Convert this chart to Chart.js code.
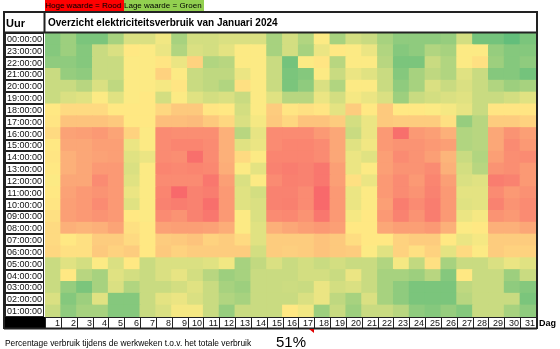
<!DOCTYPE html>
<html>
<head>
<meta charset="utf-8">
<script src="https://cdn.jsdelivr.net/npm/chart.js"></script>
<style>
  body { margin: 0; background: #fff; }
  #wrap { position: relative; width: 560px; height: 349px; overflow: hidden; }
  #heatmap { position: absolute; left: 0; top: 0; }
  .txt { position: absolute; white-space: nowrap; font-family: "Liberation Sans", Arial, sans-serif; color: #000; }
</style>
</head>
<body>
<div id="wrap">
  <canvas id="heatmap" width="560" height="349"></canvas>
  <div class="txt" style="left:45px;top:0;width:79px;height:11px;background:#ff0000;font-size:8px;line-height:11px;">Hoge waarde = Rood</div>
  <div class="txt" style="left:124px;top:0;width:80px;height:11px;background:#92d050;font-size:8px;line-height:11px;">Lage waarde = Groen</div>
  <div class="txt" style="left:6px;top:13px;font-size:11px;font-weight:bold;line-height:20px;">Uur</div>
  <div class="txt" style="left:48px;top:13px;font-size:10px;font-weight:bold;line-height:20px;">Overzicht elektriciteitsverbruik van Januari 2024</div>
  <div class="txt" style="left:539px;top:317px;font-size:9px;font-weight:bold;line-height:12px;">Dag</div>
  <div class="txt" style="left:5px;top:337px;font-size:8.4px;line-height:12px;">Percentage verbruik tijdens de werkweken t.o.v. het totale verbruik</div>
  <div class="txt" style="left:276px;top:333px;font-size:15px;line-height:17px;">51%</div>
</div>
<script>
// dagen van januari 2024
const dagen = [1, 2, 3, 4, 5, 6, 7, 8, 9, 10, 11, 12, 13, 14, 15, 16, 17, 18, 19, 20, 21, 22, 23, 24, 25, 26, 27, 28, 29, 30, 31];

// relatief verbruik per uur (0 = laagst, 100 = hoogst), dag 1 t/m 31
const uur00 = [15, 22, 12, 12, 25, 40, 40, 47, 25, 38, 38, 40, 40, 40, 25, 38, 28, 50, 25, 38, 35, 25, 18, 18, 18, 20, 38, 10, 10, 5, 12];
const uur23 = [15, 22, 15, 35, 40, 52, 50, 45, 28, 40, 38, 43, 50, 50, 25, 38, 25, 45, 52, 50, 45, 28, 15, 18, 28, 25, 50, 50, 20, 15, 15];
const uur22 = [18, 18, 15, 35, 35, 50, 50, 53, 45, 60, 28, 30, 50, 50, 35, 10, 50, 53, 30, 50, 50, 30, 12, 12, 35, 28, 50, 55, 22, 15, 18];
const uur21 = [35, 20, 18, 35, 35, 50, 50, 60, 50, 35, 32, 32, 45, 50, 35, 12, 15, 50, 35, 45, 42, 35, 15, 25, 32, 28, 42, 35, 15, 15, 10];
const uur20 = [35, 35, 30, 40, 32, 50, 50, 48, 53, 35, 32, 28, 55, 50, 35, 12, 18, 40, 28, 50, 50, 35, 18, 25, 40, 35, 40, 35, 28, 22, 25];
const uur19 = [35, 40, 42, 50, 42, 50, 52, 38, 50, 42, 38, 40, 35, 50, 42, 30, 30, 45, 38, 48, 45, 40, 22, 35, 38, 40, 42, 35, 35, 38, 42];
const uur18 = [52, 57, 57, 57, 52, 52, 52, 58, 63, 63, 53, 52, 38, 50, 62, 53, 55, 53, 43, 62, 52, 63, 52, 52, 50, 48, 44, 35, 53, 53, 53];
const uur17 = [53, 65, 65, 65, 63, 52, 52, 67, 67, 68, 63, 58, 40, 48, 63, 58, 65, 65, 62, 38, 45, 63, 62, 62, 62, 55, 20, 30, 62, 62, 60];
const uur16 = [57, 77, 78, 80, 76, 60, 50, 85, 84, 84, 84, 72, 30, 44, 85, 85, 85, 80, 75, 35, 45, 80, 95, 80, 78, 72, 28, 30, 75, 82, 78];
const uur15 = [52, 75, 75, 78, 78, 45, 50, 85, 87, 87, 85, 72, 42, 45, 85, 87, 87, 85, 75, 42, 47, 80, 82, 82, 80, 78, 28, 30, 75, 85, 80];
const uur14 = [53, 72, 75, 77, 78, 42, 45, 85, 84, 95, 85, 72, 57, 50, 87, 87, 87, 85, 75, 45, 42, 78, 85, 82, 78, 70, 35, 28, 78, 84, 85];
const uur13 = [52, 72, 75, 80, 80, 40, 50, 87, 86, 87, 86, 73, 50, 43, 88, 90, 88, 92, 78, 45, 50, 78, 82, 82, 85, 72, 38, 30, 82, 84, 80];
const uur12 = [50, 75, 75, 85, 80, 42, 50, 85, 85, 85, 92, 78, 40, 50, 85, 89, 88, 92, 78, 55, 45, 80, 85, 80, 87, 78, 40, 42, 90, 88, 80];
const uur11 = [52, 77, 80, 82, 80, 45, 50, 87, 97, 88, 90, 80, 42, 38, 88, 88, 85, 97, 80, 45, 50, 80, 85, 82, 88, 80, 43, 43, 85, 80, 83];
const uur10 = [53, 78, 80, 85, 80, 42, 50, 88, 90, 88, 95, 80, 42, 40, 88, 89, 85, 97, 80, 45, 50, 78, 90, 85, 90, 80, 42, 43, 88, 82, 85];
const uur09 = [55, 78, 80, 82, 80, 52, 50, 85, 82, 88, 92, 80, 50, 40, 85, 86, 82, 92, 80, 48, 52, 80, 88, 82, 90, 80, 45, 48, 82, 80, 85];
const uur08 = [57, 72, 70, 72, 76, 55, 52, 77, 78, 78, 77, 73, 50, 42, 72, 75, 78, 80, 78, 52, 52, 75, 78, 78, 80, 72, 50, 52, 72, 72, 75];
const uur07 = [57, 52, 55, 62, 62, 57, 52, 62, 63, 65, 60, 62, 57, 42, 62, 62, 62, 65, 63, 56, 52, 52, 60, 62, 62, 52, 45, 48, 62, 62, 62];
const uur06 = [58, 55, 55, 63, 60, 62, 52, 63, 60, 62, 62, 62, 62, 38, 62, 61, 62, 65, 63, 62, 50, 42, 60, 55, 60, 43, 57, 50, 62, 60, 60];
const uur05 = [35, 42, 38, 50, 40, 52, 35, 40, 40, 40, 42, 47, 25, 33, 40, 35, 38, 35, 38, 35, 35, 28, 48, 33, 55, 25, 35, 35, 40, 45, 42];
const uur04 = [35, 52, 30, 25, 42, 38, 35, 40, 44, 38, 30, 22, 25, 35, 35, 35, 38, 38, 35, 45, 35, 25, 25, 22, 30, 15, 52, 35, 35, 22, 35];
const uur03 = [35, 20, 12, 25, 40, 28, 35, 35, 38, 42, 35, 25, 22, 35, 35, 36, 35, 45, 38, 40, 35, 25, 18, 12, 12, 12, 32, 35, 35, 18, 15];
const uur02 = [40, 15, 22, 42, 15, 15, 35, 43, 45, 40, 35, 28, 25, 35, 35, 35, 40, 45, 32, 25, 40, 25, 18, 12, 12, 12, 30, 35, 35, 35, 12];
const uur01 = [35, 18, 25, 25, 15, 15, 35, 40, 48, 48, 35, 20, 35, 35, 35, 52, 47, 22, 35, 22, 35, 35, 30, 18, 15, 20, 15, 35, 35, 25, 18];

// van onder naar boven, zoals in het overzicht
const uurLabels = ['01:00:00', '02:00:00', '03:00:00', '04:00:00', '05:00:00', '06:00:00', '07:00:00', '08:00:00',
  '09:00:00', '10:00:00', '11:00:00', '12:00:00', '13:00:00', '14:00:00', '15:00:00', '16:00:00',
  '17:00:00', '18:00:00', '19:00:00', '20:00:00', '21:00:00', '22:00:00', '23:00:00', '00:00:00'];
const uurRijen = [uur01, uur02, uur03, uur04, uur05, uur06, uur07, uur08, uur09, uur10, uur11, uur12,
  uur13, uur14, uur15, uur16, uur17, uur18, uur19, uur20, uur21, uur22, uur23, uur00];

// kleurschaal groen - geel - rood
const groen = [99, 190, 123], geel = [255, 235, 132], rood = [248, 105, 107];
const alleWaarden = uurRijen.flat();
const laag = Math.min(...alleWaarden), hoog = Math.max(...alleWaarden);
const midden = (laag + hoog) / 2;

const mix = (a, b, t) => a.map((v, i) => Math.round(v + (b[i] - v) * t));
const kleur = (v) => {
  const c = v <= midden ? mix(groen, geel, (v - laag) / (midden - laag)) : mix(geel, rood, (v - midden) / (hoog - midden));
  return `rgb(${c[0]},${c[1]},${c[2]})`;
};

// rijlabels, daglabels en randen van de tabel
const tabelPlugin = {
  id: 'tabel',
  afterDraw(chart) {
    const { ctx, chartArea: ca, scales: { x, y } } = chart;
    ctx.save();
    ctx.strokeStyle = '#222';
    ctx.lineWidth = 1;
    ctx.fillStyle = '#111';
    ctx.font = '9px "Liberation Sans", Arial, sans-serif';
    ctx.textAlign = 'center';
    ctx.textBaseline = 'middle';
    uurLabels.forEach((lab, i) => {
      const top = Math.round(y.getPixelForValue(i + 1));
      const bot = Math.round(y.getPixelForValue(i));
      ctx.strokeRect(5.5, top + 0.5, 38, bot - top - 1);
      ctx.fillText(lab, 24.5, (top + bot) / 2 + 0.5);
    });

    const w = ca.width / dagen.length;
    ctx.textAlign = 'right';
    dagen.forEach((d, i) => {
      const c = x.getPixelForValue(i);
      const l = Math.round(c - w / 2);
      const r = Math.round(c + w / 2);
      ctx.strokeRect(l + 0.5, ca.bottom + 0.5, r - l, 11);
      ctx.fillText(String(d), r - 1, ca.bottom + 6.5);
    });

    // zwarte cel links onder
    ctx.fillStyle = '#000';
    ctx.fillRect(4, ca.bottom, 41, 12);

    // dikke buitenranden
    ctx.lineWidth = 2;
    ctx.beginPath();
    ctx.moveTo(4, 12); ctx.lineTo(537, 12);
    ctx.moveTo(4, 32.5); ctx.lineTo(537, 32.5);
    ctx.moveTo(4, 11); ctx.lineTo(4, 329);
    ctx.moveTo(537, 11); ctx.lineTo(537, 329);
    ctx.moveTo(4, 328.5); ctx.lineTo(537, 328.5);
    ctx.moveTo(44.5, 12); ctx.lineTo(44.5, 33);
    ctx.stroke();

    // rood opmerkingsdriehoekje
    ctx.fillStyle = '#e00000';
    ctx.beginPath();
    ctx.moveTo(309, 329); ctx.lineTo(314, 329); ctx.lineTo(314, 333);
    ctx.closePath();
    ctx.fill();
    ctx.restore();
  }
};

new Chart(document.getElementById('heatmap'), {
  type: 'bar',
  data: {
    labels: dagen,
    datasets: uurRijen.map((rij, i) => ({
      label: uurLabels[i],
      data: rij.map(() => 1),
      backgroundColor: rij.map(kleur),
      borderWidth: 0,
      inflateAmount: 0.5,
      barPercentage: 1,
      categoryPercentage: 1
    }))
  },
  options: {
    responsive: false,
    animation: false,
    layout: { padding: { left: 45, right: 24, top: 33, bottom: 32 } },
    plugins: { legend: { display: false }, tooltip: { enabled: false } },
    scales: {
      x: { stacked: true, display: false },
      y: { stacked: true, display: false, min: 0, max: 24 }
    }
  },
  plugins: [tabelPlugin]
});
</script>
</body>
</html>
